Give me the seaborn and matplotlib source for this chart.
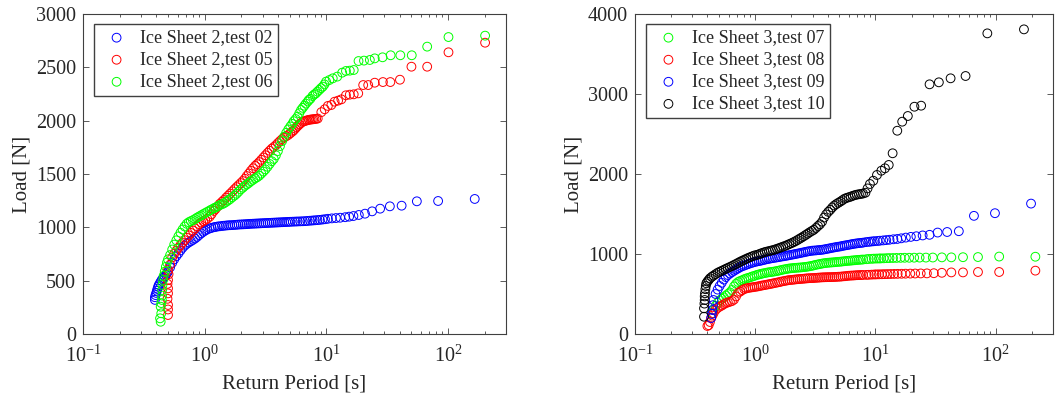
import matplotlib
matplotlib.use("Agg")
import matplotlib.pyplot as plt
import seaborn as sns
from matplotlib.ticker import LogLocator, FixedLocator, NullFormatter

# ---------------- data ----------------
# Return-period positions at which the dense part of each band was read
grid_left = [0.500, 0.520, 0.541, 0.562, 0.585, 0.608, 0.633, 0.658, 0.684, 0.712, 0.740, 0.770, 0.801, 0.833,
             0.866, 0.901, 0.937, 0.974, 1.01, 1.05, 1.10, 1.14, 1.19, 1.23, 1.28, 1.33, 1.39, 1.44, 1.50, 1.56,
             1.62, 1.69, 1.76, 1.83, 1.90, 1.98, 2.06, 2.14, 2.22, 2.31, 2.40, 2.50, 2.60, 2.70, 2.81, 2.92,
             3.04, 3.16, 3.29, 3.42, 3.56, 3.70, 3.85, 4.00, 4.16, 4.33, 4.50, 4.68, 4.87, 5.06]
grid_right = [0.450, 0.468, 0.487, 0.506, 0.527, 0.548, 0.570, 0.592, 0.616, 0.641, 0.666, 0.693, 0.721, 0.750,
              0.780, 0.811, 0.843, 0.877, 0.912, 0.949, 0.987, 1.03, 1.07, 1.11, 1.15, 1.20, 1.25, 1.30, 1.35,
              1.40, 1.46, 1.52, 1.58, 1.64, 1.71, 1.78, 1.85, 1.92, 2.00, 2.08, 2.16, 2.25, 2.34, 2.43, 2.53,
              2.63, 2.73, 2.84, 2.96, 3.07, 3.20, 3.33, 3.46, 3.60, 3.74, 3.89, 4.05, 4.21, 4.38, 4.55, 4.73,
              4.92, 5.12, 5.32, 5.54, 5.76, 5.99, 6.23, 6.48, 6.74, 7.01, 7.29, 7.58, 7.88]

# ---- Left panel: Ice Sheet 2 ----
s2_t02_low_x = [0.39, 0.39, 0.395, 0.40, 0.405, 0.41, 0.415, 0.42, 0.43, 0.44, 0.45, 0.46, 0.47, 0.48, 0.49]
s2_t02_low_y = [320, 345, 365, 385, 405, 425, 445, 460, 480, 500, 515, 525, 540, 555, 570]
s2_t02_grid_y = [585, 625, 667, 700, 730, 755, 783, 808, 828, 845, 858, 870, 882, 895, 910, 928, 944, 958, 970,
                 980, 990, 995, 1001, 1004, 1008, 1010, 1013, 1015, 1017, 1019, 1020, 1021, 1023, 1024, 1026,
                 1027, 1028, 1029, 1030, 1032, 1033, 1034, 1035, 1036, 1037, 1038, 1039, 1040, 1041, 1042,
                 1043, 1044, 1045, 1046, 1047, 1048, 1049, 1050, 1051, 1052]
s2_t02_tail_x = [5.3, 5.55, 5.8, 6.1, 6.4, 6.7, 7.0, 7.35, 7.7, 8.05, 8.45, 8.85, 9.3, 9.75, 10.3, 11.1, 12.0,
                 13.0, 14.3, 15.4, 16.7, 18.5, 20.8, 23.8, 27.7, 33.3, 41.6, 55.5, 83, 166]
s2_t02_tail_y = [1053, 1054, 1055, 1056, 1057, 1058, 1060, 1062, 1064, 1066, 1068, 1070, 1073, 1076, 1080, 1084,
                 1087, 1090, 1095, 1100, 1106, 1116, 1128, 1150, 1175, 1197, 1203, 1244, 1247, 1266]

s2_t05_low_x = [0.50, 0.50, 0.50, 0.495, 0.50, 0.50, 0.495, 0.50, 0.505]
s2_t05_low_y = [178, 230, 272, 330, 381, 428, 470, 506, 560]
s2_t05_grid_y = [600, 650, 718, 752, 781, 808, 833, 857, 880, 903, 925, 948, 970, 990, 1010, 1030, 1045, 1058,
                 1068, 1080, 1100, 1124, 1154, 1172, 1196, 1220, 1240, 1256, 1278, 1297, 1316, 1337, 1358,
                 1377, 1395, 1415, 1434, 1455, 1481, 1505, 1530, 1554, 1576, 1593, 1612, 1633, 1655, 1676,
                 1698, 1718, 1738, 1753, 1770, 1790, 1809, 1827, 1842, 1854, 1866, 1882]
s2_t05_tail_x = [5.25, 5.4, 5.55, 5.7, 5.85, 6.0, 6.2, 6.4, 6.6, 6.8, 7.0, 7.2, 7.4, 7.6, 7.8, 8.0, 8.25, 8.5,
                 9.1, 9.7, 10.3, 11.0, 11.7, 12.5, 13.3, 14.5, 15.6, 16.8, 18.3, 20.1, 22.1, 25.0, 29.2,
                 33.6, 40.3, 50.1, 67.5, 101, 202]
s2_t05_tail_y = [1897, 1910, 1925, 1940, 1952, 1965, 1978, 1990, 1995, 2000, 2004, 2008, 2010, 2012, 2013, 2015,
                 2017, 2020, 2080, 2107, 2138, 2147, 2178, 2188, 2200, 2238, 2244, 2247, 2256, 2334, 2334,
                 2356, 2362, 2362, 2384, 2506, 2506, 2641, 2731]

s2_t06_low_x = [0.435, 0.43, 0.44, 0.435, 0.44, 0.445, 0.447, 0.447, 0.45, 0.455, 0.46, 0.47, 0.48, 0.49]
s2_t06_low_y = [115, 147, 194, 256, 290, 319, 360, 412, 460, 506, 545, 585, 630, 670]
s2_t06_grid_y = [700, 740, 792, 838, 878, 915, 950, 980, 1008, 1033, 1048, 1058, 1067, 1078, 1091, 1102, 1113,
                 1124, 1134, 1145, 1158, 1167, 1179, 1186, 1197, 1208, 1217, 1225, 1238, 1252, 1265, 1283,
                 1298, 1315, 1334, 1356, 1372, 1389, 1402, 1416, 1432, 1445, 1459, 1470, 1484, 1503, 1523,
                 1543, 1568, 1594, 1620, 1641, 1675, 1715, 1762, 1808, 1850, 1886, 1918, 1946]
s2_t06_tail_x = [5.25, 5.4, 5.6, 5.8, 6.0, 6.2, 6.4, 6.6, 6.8, 7.05, 7.2, 7.4, 7.7, 7.95, 8.2, 8.45, 8.75, 9.05,
                 9.35, 9.65, 9.96, 10.6, 11.3, 12.3, 13.5, 14.5, 15.6, 16.8, 18.4, 20.4, 22.8, 25, 29, 33.8,
                 40.6, 50.4, 67.5, 101, 202]
s2_t06_tail_y = [1970, 1995, 2015, 2037, 2070, 2100, 2120, 2140, 2160, 2180, 2195, 2205, 2231, 2245, 2256, 2272,
                 2288, 2305, 2319, 2340, 2366, 2381, 2397, 2413, 2450, 2466, 2469, 2475, 2559, 2563, 2569,
                 2584, 2594, 2613, 2613, 2613, 2694, 2784, 2797]

# ---- Right panel: Ice Sheet 3 ----
s3_t07_low_x = [0.44]
s3_t07_low_y = [260]
s3_t07_grid_y = [300, 350, 390, 420, 440, 458, 480, 500, 520, 550, 595, 628, 650, 663, 673, 685, 694, 702, 710,
                 720, 727, 738, 744, 750, 756, 762, 767, 772, 775, 778, 783, 788, 793, 799, 805, 810, 815, 819,
                 822, 825, 827, 829, 831, 833, 836, 839, 842, 847, 852, 858, 865, 870, 875, 880, 885, 888, 891,
                 893, 895, 897, 900, 902, 904, 907, 910, 913, 915, 917, 920, 922, 925, 927, 929, 931]
s3_t07_tail_x = [8.4, 8.8, 9.3, 9.7, 10.2, 10.7, 11.1, 11.7, 12.4, 13.1, 14.0, 15.0, 16.2, 17.5, 19.1, 21.0,
                 23.3, 26.3, 30.0, 35.7, 42.8, 53.5, 71.3, 107, 214]
s3_t07_tail_y = [935, 938, 940, 942, 943, 944, 945, 946, 948, 949, 950, 951, 952, 953, 953, 954, 955, 955, 956,
                 958, 958, 960, 962, 968, 966]

s3_t08_low_x = [0.40, 0.41, 0.42, 0.43, 0.44]
s3_t08_low_y = [100, 110, 150, 200, 230]
s3_t08_grid_y = [259, 300, 325, 342, 355, 372, 386, 395, 403, 412, 430, 470, 515, 530, 548, 562, 570, 576, 580,
                 584, 588, 592, 597, 603, 607, 612, 617, 622, 627, 632, 638, 643, 648, 654, 660, 665, 670, 674,
                 676, 679, 682, 685, 687, 689, 691, 694, 696, 698, 699, 700, 702, 704, 706, 708, 709, 710, 711,
                 711, 712, 713, 714, 716, 717, 720, 722, 725, 728, 730, 731, 733, 735, 736, 737, 738]
s3_t08_tail_x = [8.4, 8.8, 9.3, 9.8, 10.2, 10.7, 11.3, 11.9, 12.6, 13.4, 14.3, 15.3, 16.5, 17.8, 19.5, 21.4,
                 23.8, 26.8, 30.6, 35.7, 42.8, 53.5, 71.3, 107, 214]
s3_t08_tail_y = [739, 740, 742, 744, 745, 746, 747, 748, 749, 750, 751, 752, 753, 754, 755, 756, 757, 758, 760,
                 765, 770, 770, 775, 775, 792]

s3_t09_low_x = [0.43, 0.435, 0.44, 0.445]
s3_t09_low_y = [200, 250, 300, 360]
s3_t09_grid_y = [425, 500, 555, 600, 640, 680, 712, 737, 756, 774, 790, 806, 820, 835, 847, 856, 866, 875, 884,
                 892, 900, 906, 911, 916, 922, 928, 935, 940, 945, 949, 953, 958, 962, 967, 971, 976, 980, 985,
                 990, 995, 1000, 1005, 1010, 1016, 1021, 1027, 1032, 1036, 1041, 1043, 1045, 1048, 1050, 1053,
                 1057, 1062, 1067, 1072, 1078, 1082, 1087, 1091, 1095, 1101, 1106, 1110, 1115, 1120, 1125,
                 1129, 1133, 1136, 1139, 1142]
s3_t09_tail_x = [8.3, 8.75, 9.1, 9.5, 9.85, 10.4, 10.9, 11.6, 12.3, 13.1, 14.1, 15.2, 16.4, 17.9, 19.7, 21.9,
                 24.7, 28.2, 32.9, 39.5, 49.4, 66, 98.7, 197]
s3_t09_tail_y = [1148, 1152, 1155, 1158, 1160, 1163, 1166, 1170, 1174, 1178, 1184, 1188, 1196, 1205, 1214, 1222,
                 1232, 1240, 1268, 1275, 1285, 1477, 1510, 1630]

s3_t10_low_x = [0.375, 0.375, 0.378, 0.38, 0.38, 0.382, 0.385, 0.388, 0.392, 0.40, 0.41, 0.42, 0.435]
s3_t10_low_y = [216, 321, 380, 425, 470, 509, 560, 600, 634, 655, 675, 696, 715]
s3_t10_grid_y = [730, 748, 765, 778, 790, 802, 815, 826, 838, 850, 863, 876, 890, 904, 916, 928, 940, 952, 962,
                 972, 982, 988, 996, 1005, 1014, 1024, 1030, 1036, 1042, 1048, 1056, 1065, 1074, 1083, 1093,
                 1102, 1113, 1124, 1135, 1147, 1160, 1175, 1191, 1205, 1222, 1238, 1254, 1272, 1288, 1302,
                 1325, 1350, 1372, 1404, 1455, 1495, 1527, 1552, 1582, 1606, 1624, 1640, 1656, 1673, 1691,
                 1701, 1709, 1717, 1727, 1736, 1742, 1747, 1751, 1756]
s3_t10_tail_x = [8.26, 8.6, 9.0, 9.6, 10.3, 11.2, 12.0, 12.9, 13.9, 15.2, 16.7, 18.6, 21.1, 24.0, 28.2, 33.7,
                 42.2, 56.2, 85.3, 172]
s3_t10_tail_y = [1766, 1820, 1875, 1916, 1988, 2041, 2071, 2113, 2259, 2541, 2654, 2725, 2841, 2854, 3121, 3146,
                 3196, 3225, 3758, 3808]

left_names = ["Ice Sheet 2,test 02", "Ice Sheet 2,test 05", "Ice Sheet 2,test 06"]
right_names = ["Ice Sheet 3,test 07", "Ice Sheet 3,test 08", "Ice Sheet 3,test 09", "Ice Sheet 3,test 10"]
left_colors = ["#0000ff", "#ff0000", "#00ff00"]
right_colors = ["#00ff00", "#ff0000", "#0000ff", "#000000"]

x_label = "Return Period [s]"
y_label = "Load [N]"
left_yticks = [0, 500, 1000, 1500, 2000, 2500, 3000]
right_yticks = [0, 1000, 2000, 3000, 4000]


def series(low_x, low_y, grid, grid_y, tail_x, tail_y):
    return low_x + grid[:len(grid_y)] + tail_x, low_y + grid_y + tail_y


left_data = [
    series(s2_t02_low_x, s2_t02_low_y, grid_left, s2_t02_grid_y, s2_t02_tail_x, s2_t02_tail_y),
    series(s2_t05_low_x, s2_t05_low_y, grid_left, s2_t05_grid_y, s2_t05_tail_x, s2_t05_tail_y),
    series(s2_t06_low_x, s2_t06_low_y, grid_left, s2_t06_grid_y, s2_t06_tail_x, s2_t06_tail_y),
]
right_data = [
    series(s3_t07_low_x, s3_t07_low_y, grid_right, s3_t07_grid_y, s3_t07_tail_x, s3_t07_tail_y),
    series(s3_t08_low_x, s3_t08_low_y, grid_right, s3_t08_grid_y, s3_t08_tail_x, s3_t08_tail_y),
    series(s3_t09_low_x, s3_t09_low_y, grid_right, s3_t09_grid_y, s3_t09_tail_x, s3_t09_tail_y),
    series(s3_t10_low_x, s3_t10_low_y, grid_right, s3_t10_grid_y, s3_t10_tail_x, s3_t10_tail_y),
]

# ---------------- style ----------------
sns.set_theme(style="ticks")
plt.rcParams.update({
    "font.family": ["Liberation Serif", "DejaVu Serif"],
    "mathtext.fontset": "custom",
    "mathtext.rm": "Liberation Serif",
    "mathtext.it": "Liberation Serif:italic",
    "mathtext.bf": "Liberation Serif:bold",
    "mathtext.default": "regular",
    "xtick.direction": "in",
    "ytick.direction": "in",
    "xtick.top": True,
    "ytick.right": True,
    "axes.edgecolor": "#404040",
    "axes.linewidth": 0.8,
    "text.color": "#262626",
    "axes.labelcolor": "#262626",
})

fig = plt.figure(figsize=(10.56, 4.03), dpi=100)
W, H = 1056, 403
ax1 = fig.add_axes([83 / W, 69 / H, 423 / W, 320 / H])
ax2 = fig.add_axes([635 / W, 69 / H, 418 / W, 320 / H])


def draw(ax, data, names, colors, yticks):
    for (xs, ys), name, col in zip(data, names, colors):
        sns.scatterplot(x=xs, y=ys, ax=ax, marker="o", s=40, color=col,
                        facecolor="none", edgecolor=col, linewidth=0.7, label=name)
    ax.set_xscale("log")
    ax.set_xlim(0.1, 300)
    ax.set_ylim(yticks[0], yticks[-1])
    ax.yaxis.set_major_locator(FixedLocator(yticks))
    ax.xaxis.set_major_locator(LogLocator(base=10, numticks=10))
    ax.xaxis.set_minor_locator(LogLocator(base=10, subs=range(2, 10), numticks=20))
    ax.xaxis.set_minor_formatter(NullFormatter())
    ax.tick_params(axis="both", which="major", labelsize=14.5, length=4, width=0.6,
                   colors="#404040", labelcolor="#262626", top=True, right=True)
    ax.tick_params(axis="x", which="major", pad=8)
    ax.tick_params(axis="y", which="major", pad=5)
    ax.tick_params(axis="x", which="minor", length=2.5, width=0.6, colors="#404040", top=True)
    ax.set_xlabel(x_label, fontsize=15, labelpad=6)
    ax.set_ylabel(y_label, fontsize=15, labelpad=3)
    for sp in ax.spines.values():
        sp.set_visible(True)
    leg = ax.legend(loc="upper left", bbox_to_anchor=(11 / 423, 1 - 10 / 320), borderaxespad=0,
                    fontsize=13, frameon=True, fancybox=False, edgecolor="#404040", framealpha=1,
                    handlelength=1.9, handletextpad=0.35, borderpad=0.3, labelspacing=0.28)
    leg.get_frame().set_linewidth(1.0)


draw(ax1, left_data, left_names, left_colors, left_yticks)
draw(ax2, right_data, right_names, right_colors, right_yticks)

fig.savefig("out.png", dpi=100)
